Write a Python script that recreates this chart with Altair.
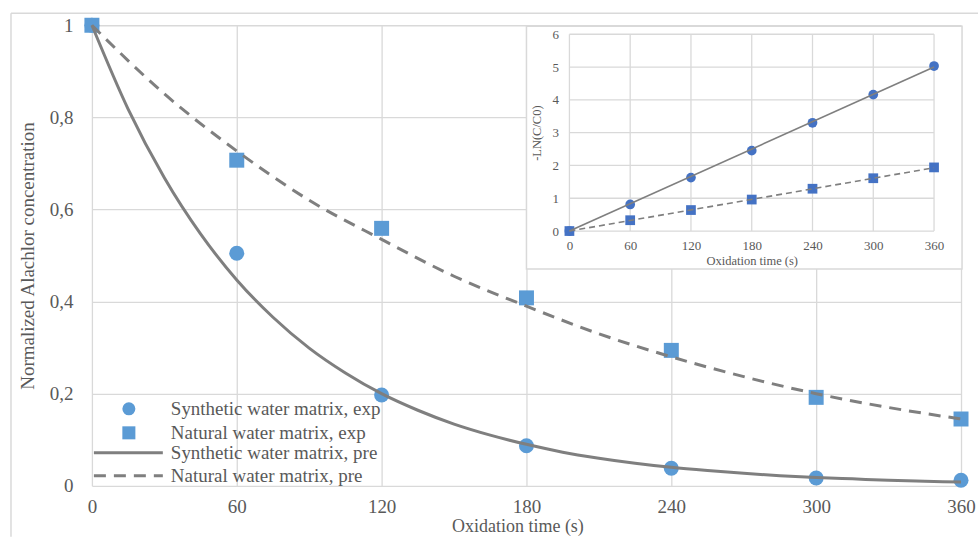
import altair as alt
import pandas as pd

# ---------------- data ----------------
time_s = [0, 60, 120, 180, 240, 300, 360]
syn_exp = [1.0, 0.505, 0.197, 0.087, 0.038, 0.017, 0.012]
nat_exp = [1.0, 0.707, 0.559, 0.408, 0.294, 0.192, 0.145]

t_syn_pre = [0, 15, 30, 45, 60, 75, 90, 105, 120, 135, 150, 165, 180,
             195, 210, 225, 240, 255, 270, 285, 300, 315, 330, 345, 360]
syn_pre = [1.0, 0.818, 0.669, 0.547, 0.447, 0.366, 0.299, 0.245, 0.200,
           0.164, 0.134, 0.110, 0.090, 0.073, 0.060, 0.049, 0.040, 0.033,
           0.027, 0.022, 0.018, 0.015, 0.012, 0.010, 0.008]
t_nat_pre = [0, 30, 60, 90, 120, 150, 180, 210, 240, 270, 300, 330, 360]
nat_pre = [1.0, 0.851, 0.727, 0.620, 0.535, 0.455, 0.390, 0.330, 0.280,
           0.237, 0.200, 0.170, 0.145]

inset_syn = [0.0, 0.81, 1.63, 2.45, 3.30, 4.16, 5.03]
inset_nat = [0.0, 0.33, 0.64, 0.96, 1.29, 1.61, 1.94]
fit_t = [0, 360]
fit_syn = [0.0, 5.0]
fit_nat = [0.0, 1.93]

x_ticks = [0, 60, 120, 180, 240, 300, 360]
y_ticks_main = [0, 0.2, 0.4, 0.6, 0.8, 1.0]
y_ticks_inset = [0, 1, 2, 3, 4, 5, 6]

legend_labels = ["Synthetic water matrix, exp", "Natural water matrix, exp",
                 "Synthetic water matrix, pre", "Natural water matrix, pre"]

# ---------------- style ----------------
FONT = "Liberation Serif"
TXT = "#595959"
GRID = "#D9D9D9"
LINE = "#7F7F7F"
PT_MAIN = "#5B9BD5"
PT_INSET = "#4472C4"

W, H = 870, 461
IX0, IX1 = 478, 843      # inset plot, x pixel range inside the main view
IY0, IY1 = 206, 9        # inset plot, y pixel range inside the main view

one = pd.DataFrame({"d": [0]})

# ---------------- main chart ----------------
x_scale = alt.Scale(domain=[0, 360], nice=False)
y_scale = alt.Scale(domain=[0, 1], nice=False)
x_axis = alt.Axis(values=x_ticks, grid=True, gridColor=GRID, gridWidth=1.3,
                  domain=False, ticks=False, labelFont=FONT, labelFontSize=19,
                  labelColor=TXT, labelPadding=12, labelFlush=False,
                  orient="bottom",
                  title="Oxidation time (s)", titleFont=FONT, titleFontSize=18,
                  titleFontWeight="normal", titleColor=TXT, titleX=426,
                  titleY=41, titleBaseline="middle")
y_axis = alt.Axis(values=y_ticks_main, grid=True, gridColor=GRID, gridWidth=1.3,
                  domain=False, ticks=False, labelFont=FONT, labelFontSize=19,
                  labelColor=TXT, labelPadding=19, orient="left",
                  labelExpr="replace(format(datum.value, '.1~f'), '.', ',')",
                  title="Normalized Alachlor concentration", titleFont=FONT,
                  titleFontSize=19, titleFontWeight="normal", titleColor=TXT,
                  titlePadding=12)


def X(field):
    return alt.X(field, type="quantitative", scale=x_scale, axis=x_axis)


def Y(field):
    return alt.Y(field, type="quantitative", scale=y_scale, axis=y_axis)


exp_df = pd.DataFrame({"t": time_s, "syn": syn_exp, "nat": nat_exp})
syn_pre_df = pd.DataFrame({"t": t_syn_pre, "v": syn_pre})
nat_pre_df = pd.DataFrame({"t": t_nat_pre, "v": nat_pre})

frame_v = alt.Chart(one).mark_rule(color=GRID, strokeWidth=1.5).encode(
    x=alt.value(-81), y=alt.value(-12), y2=alt.value(512))
frame_h = alt.Chart(one).mark_rule(color=GRID, strokeWidth=1.5).encode(
    x=alt.value(-81), x2=alt.value(887), y=alt.value(-12))

syn_pts = alt.Chart(exp_df).mark_point(shape="circle", filled=True, opacity=1,
                                       color=PT_MAIN, size=225).encode(
    x=X("t"), y=Y("syn"))
nat_pts = alt.Chart(exp_df).mark_point(shape="square", filled=True, opacity=1,
                                       color=PT_MAIN, size=225).encode(
    x=X("t"), y=Y("nat"))
syn_line = alt.Chart(syn_pre_df).mark_line(color=LINE, strokeWidth=3,
                                           interpolate="monotone").encode(
    x=X("t"), y=Y("v"))
nat_line = alt.Chart(nat_pre_df).mark_line(color=LINE, strokeWidth=3,
                                           strokeDash=[12, 8],
                                           interpolate="monotone").encode(
    x=X("t"), y=Y("v"))

# manual legend
leg_y = [384, 408, 428, 451]
leg_layers = []
leg_layers.append(alt.Chart(one).mark_point(shape="circle", filled=True, opacity=1,
                                            color=PT_MAIN, size=170).encode(
    x=alt.value(37), y=alt.value(leg_y[0])))
leg_layers.append(alt.Chart(one).mark_point(shape="square", filled=True, opacity=1,
                                            color=PT_MAIN, size=170).encode(
    x=alt.value(37), y=alt.value(leg_y[1])))
leg_layers.append(alt.Chart(one).mark_rule(color=LINE, strokeWidth=3).encode(
    x=alt.value(2), x2=alt.value(71), y=alt.value(leg_y[2])))
leg_layers.append(alt.Chart(one).mark_rule(color=LINE, strokeWidth=3,
                                           strokeDash=[12, 8]).encode(
    x=alt.value(2), x2=alt.value(71), y=alt.value(leg_y[3])))
for lab, yy in zip(legend_labels, leg_y):
    leg_layers.append(alt.Chart(one).mark_text(font=FONT, fontSize=19, color=TXT,
                                               align="left", baseline="middle").encode(
        x=alt.value(79), y=alt.value(yy), text=alt.value(lab)))

main = alt.layer(frame_v, frame_h, syn_pts, nat_pts, syn_line, nat_line,
                 *leg_layers)

# ---------------- inset (own scales, placed inside the main view) ----------------
ix_scale = alt.Scale(domain=[0, 360], nice=False, range=[IX0, IX1])
iy_scale = alt.Scale(domain=[0, 6], nice=False, range=[IY0, IY1])
ix_axis = alt.Axis(values=x_ticks, grid=False, domain=False, ticks=False,
                   orient="bottom", offset=-(H - IY0),
                   labelFont=FONT, labelFontSize=13, labelColor=TXT,
                   labelPadding=8, labelFlush=False, zindex=1,
                   title="Oxidation time (s)", titleFont=FONT, titleFontSize=12.5,
                   titleFontWeight="normal", titleColor=TXT,
                   titleX=(IX0 + IX1) / 2, titleY=29, titleBaseline="middle")
iy_axis = alt.Axis(values=y_ticks_inset, grid=False, domain=False, ticks=False,
                   orient="left", offset=-IX0,
                   labelFont=FONT, labelFontSize=13, labelColor=TXT,
                   labelPadding=11, zindex=1, title="-LN(C/C0)", titleFont=FONT,
                   titleFontSize=12.5, titleFontWeight="normal", titleColor=TXT,
                   titleY=(IY0 + IY1) / 2, titlePadding=8)


def IX(field):
    return alt.X(field, type="quantitative", scale=ix_scale, axis=ix_axis)


def IY(field):
    return alt.Y(field, type="quantitative", scale=iy_scale, axis=iy_axis)


bg = alt.Chart(one).mark_rect(fill="white", stroke=GRID, strokeWidth=1.5).encode(
    x=alt.value(435), x2=alt.value(871), y=alt.value(1), y2=alt.value(244))

vgrid_df = pd.DataFrame({"t": x_ticks, "lo": [0] * len(x_ticks),
                         "hi": [6] * len(x_ticks)})
hgrid_df = pd.DataFrame({"v": y_ticks_inset, "a": [0] * len(y_ticks_inset),
                         "b": [360] * len(y_ticks_inset)})
vgrid = alt.Chart(vgrid_df).mark_rule(color=GRID, strokeWidth=1.3).encode(
    x=IX("t"), y=IY("lo"), y2="hi")
hgrid = alt.Chart(hgrid_df).mark_rule(color=GRID, strokeWidth=1.3).encode(
    y=IY("v"), x=IX("a"), x2="b")

ins_df = pd.DataFrame({"t": time_s, "syn": inset_syn, "nat": inset_nat})
fit_df = pd.DataFrame({"t": fit_t, "syn": fit_syn, "nat": fit_nat})

i_syn_pts = alt.Chart(ins_df).mark_point(shape="circle", filled=True, opacity=1,
                                         color=PT_INSET, size=95).encode(
    x=IX("t"), y=IY("syn"))
i_nat_pts = alt.Chart(ins_df).mark_point(shape="square", filled=True, opacity=1,
                                         color=PT_INSET, size=95).encode(
    x=IX("t"), y=IY("nat"))
i_syn_line = alt.Chart(fit_df).mark_line(color=LINE, strokeWidth=1.6).encode(
    x=IX("t"), y=IY("syn"))
i_nat_line = alt.Chart(fit_df).mark_line(color=LINE, strokeWidth=1.6,
                                         strokeDash=[6, 4]).encode(
    x=IX("t"), y=IY("nat"))

inset = alt.layer(bg, vgrid, hgrid, i_syn_pts, i_nat_pts, i_syn_line, i_nat_line)

chart = alt.layer(main, inset).resolve_scale(
    x="independent", y="independent"
).resolve_axis(
    x="independent", y="independent"
).properties(
    width=W, height=H,
    padding={"left": 10, "top": 12, "right": 0, "bottom": 0},
    background="white",
).configure_view(strokeWidth=0)

chart.save("out.html", embed_options={"renderer": "svg", "actions": False})
